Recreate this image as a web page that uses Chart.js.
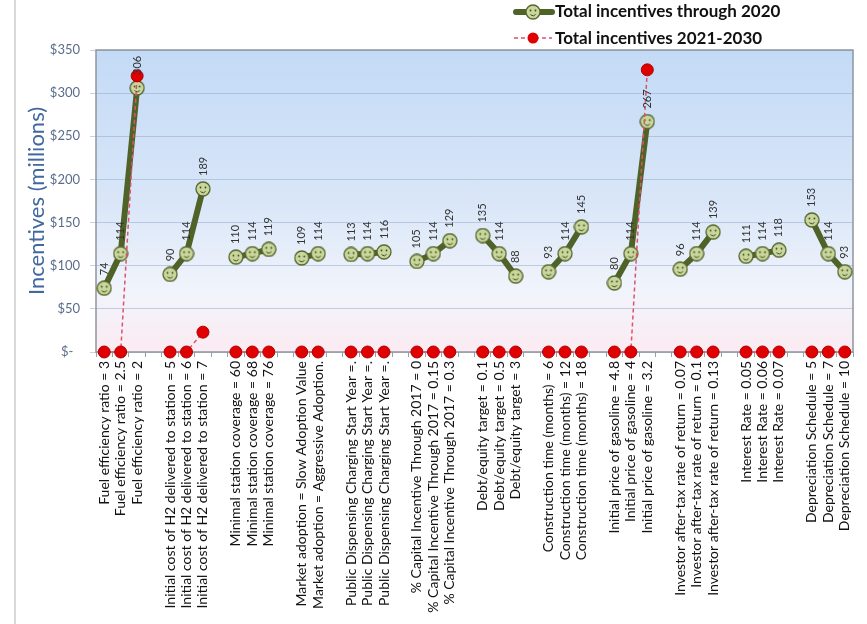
<!DOCTYPE html>
<html>
<head>
<meta charset="utf-8">
<script src="https://cdn.jsdelivr.net/npm/chart.js@4"></script>
<style>
  body { margin: 0; background: #fff; }
  #wrap { width: 867px; height: 624px; }
</style>
</head>
<body>
<div id="wrap"><canvas id="incentives" width="867" height="624"></canvas></div>
<script>
const categories = [
  'Fuel efficiency ratio = 3', 'Fuel efficiency ratio = 2.5', 'Fuel efficiency ratio = 2', '',
  'Initial cost of H2 delivered to station = 5', 'Initial cost of H2 delivered to station = 6', 'Initial cost of H2 delivered to station = 7', '',
  'Minimal station coverage = 60', 'Minimal station coverage = 68', 'Minimal station coverage = 76', '',
  'Market adoption = Slow Adoption Value', 'Market adoption = Aggressive Adoption.', '',
  'Public Dispensing Charging Start Year =.', 'Public Dispensing Charging Start Year =.', 'Public Dispensing Charging Start Year =.', '',
  '% Capital Incentive Through 2017 = 0', '% Capital Incentive Through 2017 = 0.15', '% Capital Incentive Through 2017 = 0.3', '',
  'Debt/equity target = 0.1', 'Debt/equity target = 0.5', 'Debt/equity target = 3', '',
  'Construction time (months) = 6', 'Construction time (months) = 12', 'Construction time (months) = 18', '',
  'Initial price of gasoline = 4.8', 'Initial price of gasoline = 4', 'Initial price of gasoline = 3.2', '',
  'Investor after-tax rate of return = 0.07', 'Investor after-tax rate of return = 0.1', 'Investor after-tax rate of return = 0.13', '',
  'Interest Rate = 0.05', 'Interest Rate = 0.06', 'Interest Rate = 0.07', '',
  'Depreciation Schedule = 5', 'Depreciation Schedule = 7', 'Depreciation Schedule = 10'
];

const through2020 = [74, 114, 306, null, 90, 114, 189, null, 110, 114, 119, null, 109, 114, null,
  113, 114, 116, null, 105, 114, 129, null, 135, 114, 88, null, 93, 114, 145, null,
  80, 114, 267, null, 96, 114, 139, null, 111, 114, 118, null, 153, 114, 93];

const from2021 = [0, 0, 320, null, 0, 0, 23, null, 0, 0, 0, null, 0, 0, null,
  0, 0, 0, null, 0, 0, 0, null, 0, 0, 0, null, 0, 0, 0, null,
  0, 0, 327, null, 0, 0, 0, null, 0, 0, 0, null, 0, 0, 0];

const yTickLabels = ['$-  ', '$50', '$100', '$150', '$200', '$250', '$300', '$350'];

const seriesNames = ['Total incentives through 2020', 'Total incentives 2021-2030'];

const olive = '#4f6228';
const red = '#e00000';
const redDash = '#e0506a';

// smiley marker for the green series
function makeSmiley(size) {
  const c = document.createElement('canvas');
  c.width = size; c.height = size;
  const g = c.getContext('2d');
  const m = size / 2;
  g.beginPath();
  g.arc(m, m, m - 1, 0, Math.PI * 2);
  g.fillStyle = '#c9d79c';
  g.fill();
  g.lineWidth = 1.3;
  g.strokeStyle = '#55652e';
  g.stroke();
  g.fillStyle = '#3d4a1e';
  g.beginPath(); g.arc(m - 2.5, m - 1.5, 0.9, 0, Math.PI * 2); g.fill();
  g.beginPath(); g.arc(m + 2.5, m - 1.5, 0.9, 0, Math.PI * 2); g.fill();
  g.beginPath();
  g.arc(m, m + 0.5, 3.2, 0.2 * Math.PI, 0.8 * Math.PI);
  g.lineWidth = 1;
  g.strokeStyle = '#3d4a1e';
  g.stroke();
  return c;
}
const smiley = makeSmiley(16);

const plotBackground = {
  id: 'plotBackground',
  beforeDraw(chart) {
    const {ctx, chartArea: a} = chart;
    ctx.save();
    ctx.fillStyle = '#d9d9d9';
    ctx.fillRect(14, 0, 2, chart.height);
    const grad = ctx.createLinearGradient(0, a.top, 0, a.bottom);
    grad.addColorStop(0, '#c3daf6');
    grad.addColorStop(0.5, '#d9e6f8');
    grad.addColorStop(0.8, '#f1f4fb');
    grad.addColorStop(1, '#fcebf2');
    ctx.fillStyle = grad;
    ctx.fillRect(a.left, a.top, a.right - a.left, a.bottom - a.top);
    ctx.restore();
  },
  beforeDatasetsDraw(chart) {
    const {ctx, chartArea: a} = chart;
    ctx.save();
    ctx.strokeStyle = '#8e959e';
    ctx.lineWidth = 1.5;
    ctx.strokeRect(a.left, a.top, a.right - a.left, a.bottom - a.top);
    ctx.restore();
  }
};

const valueLabels = {
  id: 'valueLabels',
  afterDatasetsDraw(chart) {
    const {ctx} = chart;
    const meta = chart.getDatasetMeta(0);
    ctx.save();
    ctx.font = '11px Lato';
    ctx.fillStyle = '#333';
    ctx.textAlign = 'left';
    ctx.textBaseline = 'middle';
    meta.data.forEach((pt, i) => {
      const v = through2020[i];
      if (v === null) return;
      ctx.save();
      ctx.translate(pt.x, pt.y - 13);
      ctx.rotate(-Math.PI / 2);
      ctx.fillText(String(v), 0, 0);
      ctx.restore();
    });
    ctx.restore();
  }
};

const sideLegend = {
  id: 'sideLegend',
  afterDraw(chart) {
    const {ctx} = chart;
    ctx.save();
    // green item
    ctx.strokeStyle = olive;
    ctx.lineWidth = 6;
    ctx.lineCap = 'round';
    ctx.beginPath(); ctx.moveTo(516, 12); ctx.lineTo(552, 12); ctx.stroke();
    ctx.drawImage(smiley, 533 - 8, 12 - 8);
    // red item
    ctx.strokeStyle = redDash;
    ctx.lineWidth = 1.5;
    ctx.lineCap = 'butt';
    ctx.setLineDash([4, 3]);
    ctx.beginPath(); ctx.moveTo(514, 38); ctx.lineTo(552, 38); ctx.stroke();
    ctx.setLineDash([]);
    ctx.beginPath(); ctx.arc(533, 38, 5.5, 0, Math.PI * 2);
    ctx.fillStyle = red; ctx.fill();
    ctx.font = 'bold 17px Lato';
    ctx.fillStyle = '#111';
    ctx.textBaseline = 'middle';
    ctx.fillText(seriesNames[0], 555, 12);
    ctx.fillText(seriesNames[1], 555, 39);
    ctx.restore();
  }
};

Chart.defaults.font.family = 'Lato';

new Chart(document.getElementById('incentives').getContext('2d'), {
  type: 'line',
  data: {
    labels: categories,
    datasets: [{
      label: seriesNames[0],
      data: through2020,
      borderColor: olive,
      borderWidth: 6,
      pointStyle: smiley,
      pointRadius: 8,
      spanGaps: false,
      clip: false,
      order: 1
    }, {
      label: seriesNames[1],
      data: from2021,
      borderColor: redDash,
      borderWidth: 1.5,
      borderDash: [4, 3],
      pointRadius: 6,
      pointBackgroundColor: red,
      pointBorderColor: '#b00000',
      pointBorderWidth: 1,
      spanGaps: false,
      clip: false,
      order: 0
    }]
  },
  options: {
    responsive: false,
    animation: false,
    layout: { padding: { top: 50, right: 12, left: 0, bottom: 0 } },
    scales: {
      x: {
        offset: true,
        grid: { display: true, drawOnChartArea: false, offset: true, tickLength: 5, color: '#9aa0a8' },
        border: { display: false },
        ticks: {
          autoSkip: false,
          minRotation: 90,
          maxRotation: 90,
          padding: 4,
          color: '#111',
          font: { size: 14 }
        },
        afterFit(scale) { scale.height = 272; }
      },
      y: {
        min: 0,
        max: 350,
        grid: { color: 'rgba(150,172,205,0.55)', tickLength: 6 },
        border: { display: false },
        ticks: {
          stepSize: 50,
          padding: 10,
          color: '#5b6d8c',
          font: { size: 13 },
          callback: (v, i) => yTickLabels[i]
        },
        title: {
          display: true,
          text: 'Incentives (millions)',
          color: '#41699f',
          font: { size: 22 },
          padding: { top: 24, bottom: 0 }
        },
        afterFit(scale) { scale.width = 96; }
      }
    },
    plugins: {
      legend: { display: false },
      tooltip: { enabled: false }
    }
  },
  plugins: [plotBackground, valueLabels, sideLegend]
});
</script>
</body>
</html>
